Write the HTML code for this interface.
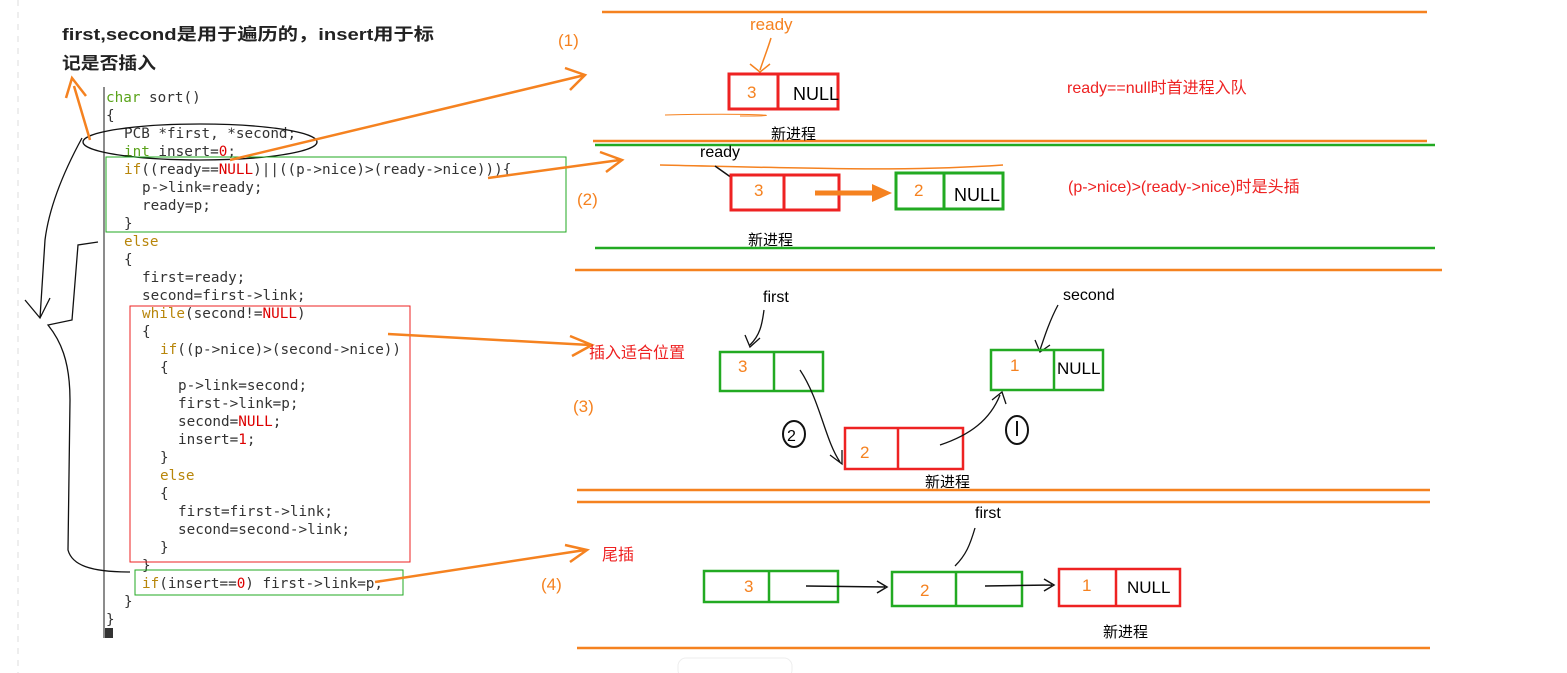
<!DOCTYPE html>
<html><head><meta charset="utf-8"><style>
body{margin:0;background:#fff}
svg{display:block}
.c{font-family:"DejaVu Sans Mono","Liberation Mono",monospace;font-size:14.3px;fill:#333}
.k{fill:#b8860b}.g{fill:#5aa31a}.r{fill:#d00}
.s{font-family:"Liberation Sans","Noto Sans CJK SC",sans-serif}
</style></head><body>
<svg width="1567" height="673" viewBox="0 0 1567 673" xmlns="http://www.w3.org/2000/svg">
<line x1="18" y1="0" x2="18" y2="673" stroke="#ddd" stroke-dasharray="6,6"/>
<text x="62" y="40" class="s" font-size="17" fill="#222" font-weight="bold" textLength="372" lengthAdjust="spacingAndGlyphs">first,second是用于遍历的，insert用于标</text>
<text x="62" y="69" class="s" font-size="17" fill="#222" font-weight="bold" textLength="94" lengthAdjust="spacingAndGlyphs">记是否插入</text>
<line x1="104" y1="87" x2="104" y2="638" stroke="#666" stroke-width="1.5"/>
<rect x="105" y="628" width="8" height="10" fill="#333"/>
<g class="c">
<text x="106" y="102"><tspan class="g">char</tspan> sort()</text>
<text x="106" y="120">{</text>
<text x="124" y="138">PCB *first, *second;</text>
<text x="124" y="156"><tspan class="g">int</tspan> insert=<tspan class="r">0</tspan>;</text>
<text x="124" y="174"><tspan class="k">if</tspan>((ready==<tspan class="r">NULL</tspan>)||((p->nice)>(ready->nice))){</text>
<text x="142" y="192">p->link=ready;</text>
<text x="142" y="210">ready=p;</text>
<text x="124" y="228">}</text>
<text x="124" y="246" class="k">else</text>
<text x="124" y="264">{</text>
<text x="142" y="282">first=ready;</text>
<text x="142" y="300">second=first->link;</text>
<text x="142" y="318"><tspan class="k">while</tspan>(second!=<tspan class="r">NULL</tspan>)</text>
<text x="142" y="336">{</text>
<text x="160" y="354"><tspan class="k">if</tspan>((p->nice)>(second->nice))</text>
<text x="160" y="372">{</text>
<text x="178" y="390">p->link=second;</text>
<text x="178" y="408">first->link=p;</text>
<text x="178" y="426">second=<tspan class="r">NULL</tspan>;</text>
<text x="178" y="444">insert=<tspan class="r">1</tspan>;</text>
<text x="160" y="462">}</text>
<text x="160" y="480" class="k">else</text>
<text x="160" y="498">{</text>
<text x="178" y="516">first=first->link;</text>
<text x="178" y="534">second=second->link;</text>
<text x="160" y="552">}</text>
<text x="142" y="570">}</text>
<text x="142" y="588"><tspan class="k">if</tspan>(insert==<tspan class="r">0</tspan>) first->link=p;</text>
<text x="124" y="606">}</text>
<text x="106" y="624">}</text>
</g>
<ellipse cx="200" cy="142" rx="117" ry="18" fill="none" stroke="#111" stroke-width="1.3"/>
<rect x="106" y="157" width="460" height="75" fill="none" stroke="#2a2" stroke-width="1"/>
<rect x="130" y="306" width="280" height="256" fill="none" stroke="#e22" stroke-width="1"/>
<rect x="135" y="570" width="268" height="25" fill="none" stroke="#2a2" stroke-width="1"/>
<path d="M82 138 C70 160 50 200 45 240 L40 318 M25 300 L40 318 L50 298 M98 242 L78 245 L72 320 L48 325 C60 340 70 360 70 400 L68 550 C72 565 90 572 130 572" fill="none" stroke="#111" stroke-width="1.3"/>
<g fill="none" stroke="#f58220" stroke-width="2.5">
<path d="M90 140 L74 86 M66 98 L72 78 L86 96"/>
<path d="M230 160 L585 75 M565 68 L585 75 L570 90"/>
<path d="M488 178 L620 160 M600 152 L622 160 L606 172"/>
<path d="M388 334 L590 345 M570 336 L592 345 L572 356"/>
<path d="M375 582 L585 550 M565 545 L587 550 L570 562"/>
<line x1="602" y1="12" x2="1427" y2="12"/>
<line x1="593" y1="141" x2="1427" y2="141"/>
<line x1="575" y1="270" x2="1442" y2="270"/>
<line x1="577" y1="490" x2="1430" y2="490"/>
<line x1="577" y1="502" x2="1430" y2="502"/>
<line x1="577" y1="648" x2="1430" y2="648"/>
</g>
<g class="s" fill="#f58220" font-size="17">
<text x="558" y="46">(1)</text><text x="577" y="205">(2)</text><text x="573" y="412">(3)</text><text x="541" y="590">(4)</text>
<text x="750" y="30">ready</text>
</g>
<g stroke="#2a2" stroke-width="2.5"><line x1="595" y1="145" x2="1435" y2="145"/><line x1="595" y1="248" x2="1435" y2="248"/></g>
<path d="M771 38 C768 48 764 58 760 70 M750 64 L760 72 L770 64" fill="none" stroke="#f58220" stroke-width="1.5"/>
<rect x="729" y="74" width="109" height="35" fill="none" stroke="#e22" stroke-width="3"/>
<line x1="778" y1="74" x2="778" y2="109" stroke="#e22" stroke-width="3"/>
<path d="M665 115 C750 113 800 116 740 116" stroke="#f58220" fill="none"/>
<text x="747" y="98" class="s" fill="#f58220" font-size="17">3</text>
<text x="793" y="100" class="s" font-size="18">NULL</text>
<text x="771" y="139" class="s" font-size="15">新进程</text>
<text x="1067" y="93" class="s" fill="#e22" font-size="16">ready==null时首进程入队</text>
<text x="700" y="157" class="s" font-size="16">ready</text>
<path d="M660 165 C800 168 900 172 1003 165" stroke="#f58220" fill="none" stroke-width="1.5"/>
<path d="M715 166 L732 178" stroke="#111" fill="none" stroke-width="1.5"/>
<rect x="731" y="175" width="108" height="35" fill="none" stroke="#e22" stroke-width="3"/>
<line x1="784" y1="175" x2="784" y2="210" stroke="#e22" stroke-width="3"/>
<text x="754" y="196" class="s" fill="#f58220" font-size="17">3</text>
<line x1="815" y1="193" x2="875" y2="193" stroke="#f58220" stroke-width="5"/>
<polygon points="872,184 892,193 872,202" fill="#f58220"/>
<rect x="896" y="173" width="107" height="36" fill="none" stroke="#2a2" stroke-width="3"/>
<line x1="944" y1="173" x2="944" y2="209" stroke="#2a2" stroke-width="3"/>
<text x="914" y="196" class="s" fill="#f58220" font-size="17">2</text>
<text x="954" y="201" class="s" font-size="18">NULL</text>
<text x="748" y="245" class="s" font-size="15">新进程</text>
<text x="1068" y="192" class="s" fill="#e22" font-size="16">(p->nice)>(ready->nice)时是头插</text>
<text x="763" y="302" class="s" font-size="16">first</text>
<path d="M764 310 C762 325 760 335 750 345 M745 335 L750 347 L760 338" fill="none" stroke="#111" stroke-width="1.3"/>
<rect x="720" y="352" width="103" height="39" fill="none" stroke="#2a2" stroke-width="2.5"/>
<line x1="774" y1="352" x2="774" y2="391" stroke="#2a2" stroke-width="2.5"/>
<text x="738" y="372" class="s" fill="#f58220" font-size="17">3</text>
<text x="1063" y="300" class="s" font-size="16">second</text>
<path d="M1058 305 C1050 320 1045 335 1040 350 M1035 340 L1040 352 L1050 345" fill="none" stroke="#111" stroke-width="1.3"/>
<rect x="991" y="350" width="112" height="40" fill="none" stroke="#2a2" stroke-width="2.5"/>
<line x1="1054" y1="350" x2="1054" y2="390" stroke="#2a2" stroke-width="2.5"/>
<text x="1010" y="371" class="s" fill="#f58220" font-size="17">1</text>
<text x="1057" y="374" class="s" font-size="17">NULL</text>
<rect x="845" y="428" width="118" height="41" fill="none" stroke="#e22" stroke-width="2.5"/>
<line x1="898" y1="428" x2="898" y2="469" stroke="#e22" stroke-width="2.5"/>
<text x="860" y="458" class="s" fill="#f58220" font-size="17">2</text>
<text x="925" y="487" class="s" font-size="15">新进程</text>
<path d="M800 370 C820 400 825 440 840 462 M830 455 L842 464 L842 450" fill="none" stroke="#111" stroke-width="1.3"/>
<path d="M940 445 C970 435 990 420 1000 395 M992 400 L1002 392 L1006 404" fill="none" stroke="#111" stroke-width="1.3"/>
<ellipse cx="794" cy="434" rx="11" ry="13" fill="none" stroke="#111" stroke-width="2"/>
<text x="787" y="441" class="s" font-size="16">2</text>
<ellipse cx="1017" cy="430" rx="11" ry="14" fill="none" stroke="#111" stroke-width="2"/>
<line x1="1017" y1="421" x2="1017" y2="436" stroke="#111" stroke-width="2"/>
<text x="589" y="358" class="s" fill="#e22" font-size="16">插入适合位置</text>
<text x="602" y="560" class="s" fill="#e22" font-size="16">尾插</text>
<text x="975" y="518" class="s" font-size="16">first</text>
<path d="M975 528 C970 545 966 555 955 566" fill="none" stroke="#111" stroke-width="1.3"/>
<rect x="704" y="571" width="134" height="31" fill="none" stroke="#2a2" stroke-width="2.5"/>
<line x1="769" y1="571" x2="769" y2="602" stroke="#2a2" stroke-width="2.5"/>
<text x="744" y="592" class="s" fill="#f58220" font-size="17">3</text>
<path d="M806 586 L885 587 M877 581 L887 587 L877 593" fill="none" stroke="#111" stroke-width="1.5"/>
<rect x="892" y="572" width="130" height="34" fill="none" stroke="#2a2" stroke-width="2.5"/>
<line x1="956" y1="572" x2="956" y2="606" stroke="#2a2" stroke-width="2.5"/>
<text x="920" y="596" class="s" fill="#f58220" font-size="17">2</text>
<path d="M985 586 L1052 585 M1044 579 L1054 585 L1044 591" fill="none" stroke="#111" stroke-width="1.5"/>
<rect x="1059" y="569" width="121" height="37" fill="none" stroke="#e22" stroke-width="2.5"/>
<line x1="1116" y1="569" x2="1116" y2="606" stroke="#e22" stroke-width="2.5"/>
<text x="1082" y="591" class="s" fill="#f58220" font-size="17">1</text>
<text x="1127" y="593" class="s" font-size="17">NULL</text>
<text x="1103" y="637" class="s" font-size="15">新进程</text>
<rect x="678" y="658" width="114" height="20" rx="8" fill="none" stroke="#eee"/>
</svg>
</body></html>
